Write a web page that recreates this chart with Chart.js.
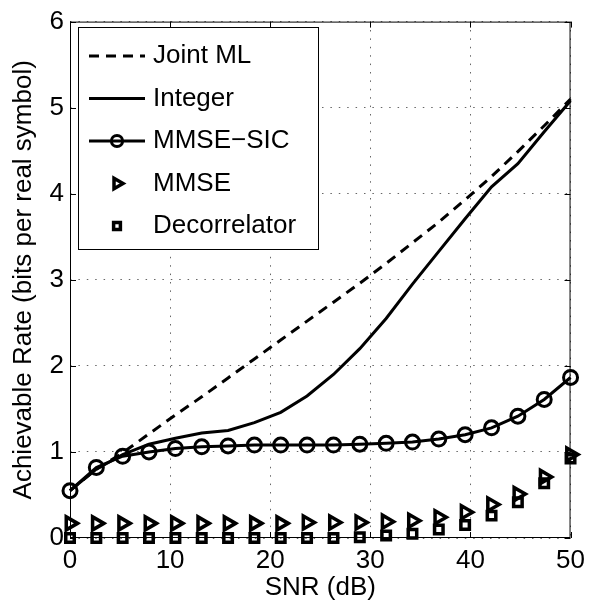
<!DOCTYPE html>
<html>
<head>
<meta charset="utf-8">
<title>Achievable rate vs SNR</title>
<script src="https://cdn.jsdelivr.net/npm/chart.js@4/dist/chart.umd.min.js"></script>
<style>
  html, body { margin: 0; padding: 0; background: #fff; }
  canvas { display: block; }
</style>
</head>
<body>
<canvas id="rate-chart" width="592" height="603"></canvas>
<script>
// SNR sample points (dB)
const snr = [0, 2.63, 5.26, 7.89, 10.53, 13.16, 15.79, 18.42, 21.05, 23.68,
             26.32, 28.95, 31.58, 34.21, 36.84, 39.47, 42.11, 44.74, 47.37, 50];

// rates in bits per real symbol
const jointML = [0.55, 0.80, 0.99, 1.21, 1.43, 1.64, 1.86, 2.08, 2.30, 2.52,
                 2.74, 2.96, 3.19, 3.43, 3.67, 3.93, 4.20, 4.49, 4.79, 5.10];
const integer = [0.55, 0.80, 0.97, 1.09, 1.16, 1.22, 1.25, 1.34, 1.46, 1.65,
                 1.90, 2.20, 2.55, 2.95, 3.33, 3.71, 4.08, 4.35, 4.72, 5.08];
const mmseSic = [0.55, 0.82, 0.95, 1.00, 1.04, 1.06, 1.07, 1.08, 1.08, 1.08,
                 1.08, 1.09, 1.10, 1.115, 1.15, 1.20, 1.28, 1.415, 1.61, 1.865];
const mmse = [0.17, 0.17, 0.17, 0.17, 0.17, 0.17, 0.17, 0.17, 0.17, 0.18,
              0.18, 0.18, 0.19, 0.20, 0.24, 0.30, 0.39, 0.51, 0.71, 0.97];
const decorrelator = [0, 0, 0, 0, 0, 0, 0, 0, 0, 0,
                      0, 0.01, 0.03, 0.05, 0.10, 0.15, 0.26, 0.415, 0.635, 0.925];

const xTicks = [0, 10, 20, 30, 40, 50];
const yTicks = [0, 1, 2, 3, 4, 5, 6];

const FONT = "'Liberation Sans', Arial, Helvetica, sans-serif";
const pts = (ys) => snr.map((x, i) => ({ x, y: ys[i] }));

Chart.defaults.font.family = FONT;
Chart.defaults.font.size = 26;
Chart.defaults.color = '#000';

// MATLAB-style box with inward tick marks on all four sides
const frame = {
  id: 'frame',
  beforeDatasetsDraw(chart) {
    const { ctx, chartArea: a, scales: { x, y } } = chart;
    const len = 6;
    ctx.save();
    ctx.strokeStyle = '#000';
    ctx.lineWidth = 1;
    ctx.strokeRect(a.left + 0.5, a.top + 0.5, a.width - 1, a.height - 1);
    ctx.beginPath();
    xTicks.forEach(v => {
      const px = Math.round(x.getPixelForValue(v)) + 0.5;
      ctx.moveTo(px, a.bottom); ctx.lineTo(px, a.bottom - len);
      ctx.moveTo(px, a.top); ctx.lineTo(px, a.top + len);
    });
    yTicks.forEach(v => {
      const py = Math.round(y.getPixelForValue(v)) + 0.5;
      ctx.moveTo(a.left, py); ctx.lineTo(a.left + len, py);
      ctx.moveTo(a.right, py); ctx.lineTo(a.right - len, py);
    });
    ctx.stroke();
    ctx.restore();
  }
};

// legend box drawn inside the plot, upper left
const boxLegend = {
  id: 'boxLegend',
  afterDraw(chart) {
    const { ctx } = chart;
    const left = 78, top = 27, w = 240, h = 222;
    ctx.save();
    ctx.fillStyle = '#fff';
    ctx.fillRect(left, top, w, h);
    ctx.strokeStyle = '#000';
    ctx.lineWidth = 1;
    ctx.strokeRect(left + 0.5, top + 0.5, w, h);

    chart.data.datasets.forEach((ds, i) => {
      const cy = top + 29 + i * 42.5;
      if (ds.showLine !== false) {
        ctx.beginPath();
        ctx.setLineDash(ds.borderDash || []);
        ctx.lineWidth = ds.borderWidth;
        ctx.strokeStyle = ds.borderColor;
        ctx.moveTo(89, cy);
        ctx.lineTo(145, cy);
        ctx.stroke();
        ctx.setLineDash([]);
      }
      if (ds.pointRadius > 0) {
        ctx.fillStyle = 'rgba(0,0,0,0)';
        ctx.strokeStyle = '#000';
        ctx.lineWidth = ds.pointBorderWidth;
        Chart.helpers.drawPoint(ctx, {
          pointStyle: ds.pointStyle,
          rotation: ds.pointRotation || 0,
          radius: ds.pointRadius * 0.8,
          borderWidth: ds.pointBorderWidth
        }, 117, cy);
      }
      ctx.fillStyle = '#000';
      ctx.font = '26px ' + FONT;
      ctx.textAlign = 'left';
      ctx.textBaseline = 'middle';
      ctx.fillText(ds.label, 153, cy);
    });
    ctx.restore();
  }
};

const common = { borderColor: '#000', backgroundColor: 'rgba(0,0,0,0)', clip: false };

new Chart(document.getElementById('rate-chart'), {
  type: 'line',
  data: {
    datasets: [
      { ...common, label: 'Joint ML', data: pts(jointML), borderWidth: 3, borderDash: [10, 7], pointRadius: 0 },
      { ...common, label: 'Integer', data: pts(integer), borderWidth: 3, pointRadius: 0 },
      { ...common, label: 'MMSE\u2212SIC', data: pts(mmseSic), borderWidth: 3,
        pointStyle: 'circle', pointRadius: 7, pointBorderWidth: 3,
        pointBackgroundColor: 'rgba(0,0,0,0)', pointBorderColor: '#000' },
      { ...common, label: 'MMSE', data: pts(mmse), showLine: false,
        pointStyle: 'triangle', pointRotation: 90, pointRadius: 7.5, pointBorderWidth: 3.5,
        pointBackgroundColor: 'rgba(0,0,0,0)', pointBorderColor: '#000' },
      { ...common, label: 'Decorrelator', data: pts(decorrelator), showLine: false,
        pointStyle: 'rect', pointRadius: 6, pointBorderWidth: 3.5,
        pointBackgroundColor: 'rgba(0,0,0,0)', pointBorderColor: '#000' }
    ]
  },
  options: {
    responsive: false,
    animation: false,
    layout: { padding: { left: 0, right: 17, top: 18, bottom: 0 } },
    plugins: { legend: { display: false }, tooltip: { enabled: false } },
    elements: { line: { tension: 0 } },
    scales: {
      x: {
        type: 'linear', min: 0, max: 50,
        afterFit: (s) => { s.height = 65; },
        afterBuildTicks: (s) => { s.ticks = xTicks.map(v => ({ value: v })); },
        ticks: { padding: 7, maxRotation: 0 },
        grid: { color: 'rgba(0,0,0,0.6)', lineWidth: 1, drawTicks: false },
        border: { display: false, dash: [1.5, 6.9] },
        title: { display: true, text: 'SNR (dB)', padding: { top: 0, bottom: 0 } }
      },
      y: {
        type: 'linear', min: 0, max: 6,
        afterFit: (s) => { s.width = 70; },
        afterBuildTicks: (s) => { s.ticks = yTicks.map(v => ({ value: v })); },
        ticks: { padding: 6 },
        grid: { color: 'rgba(0,0,0,0.6)', lineWidth: 1, drawTicks: false },
        border: { display: false, dash: [1.5, 6.9] },
        title: { display: true, text: 'Achievable Rate (bits per real symbol)', padding: { top: 8, bottom: 0 } }
      }
    }
  },
  plugins: [frame, boxLegend]
});
</script>
</body>
</html>
